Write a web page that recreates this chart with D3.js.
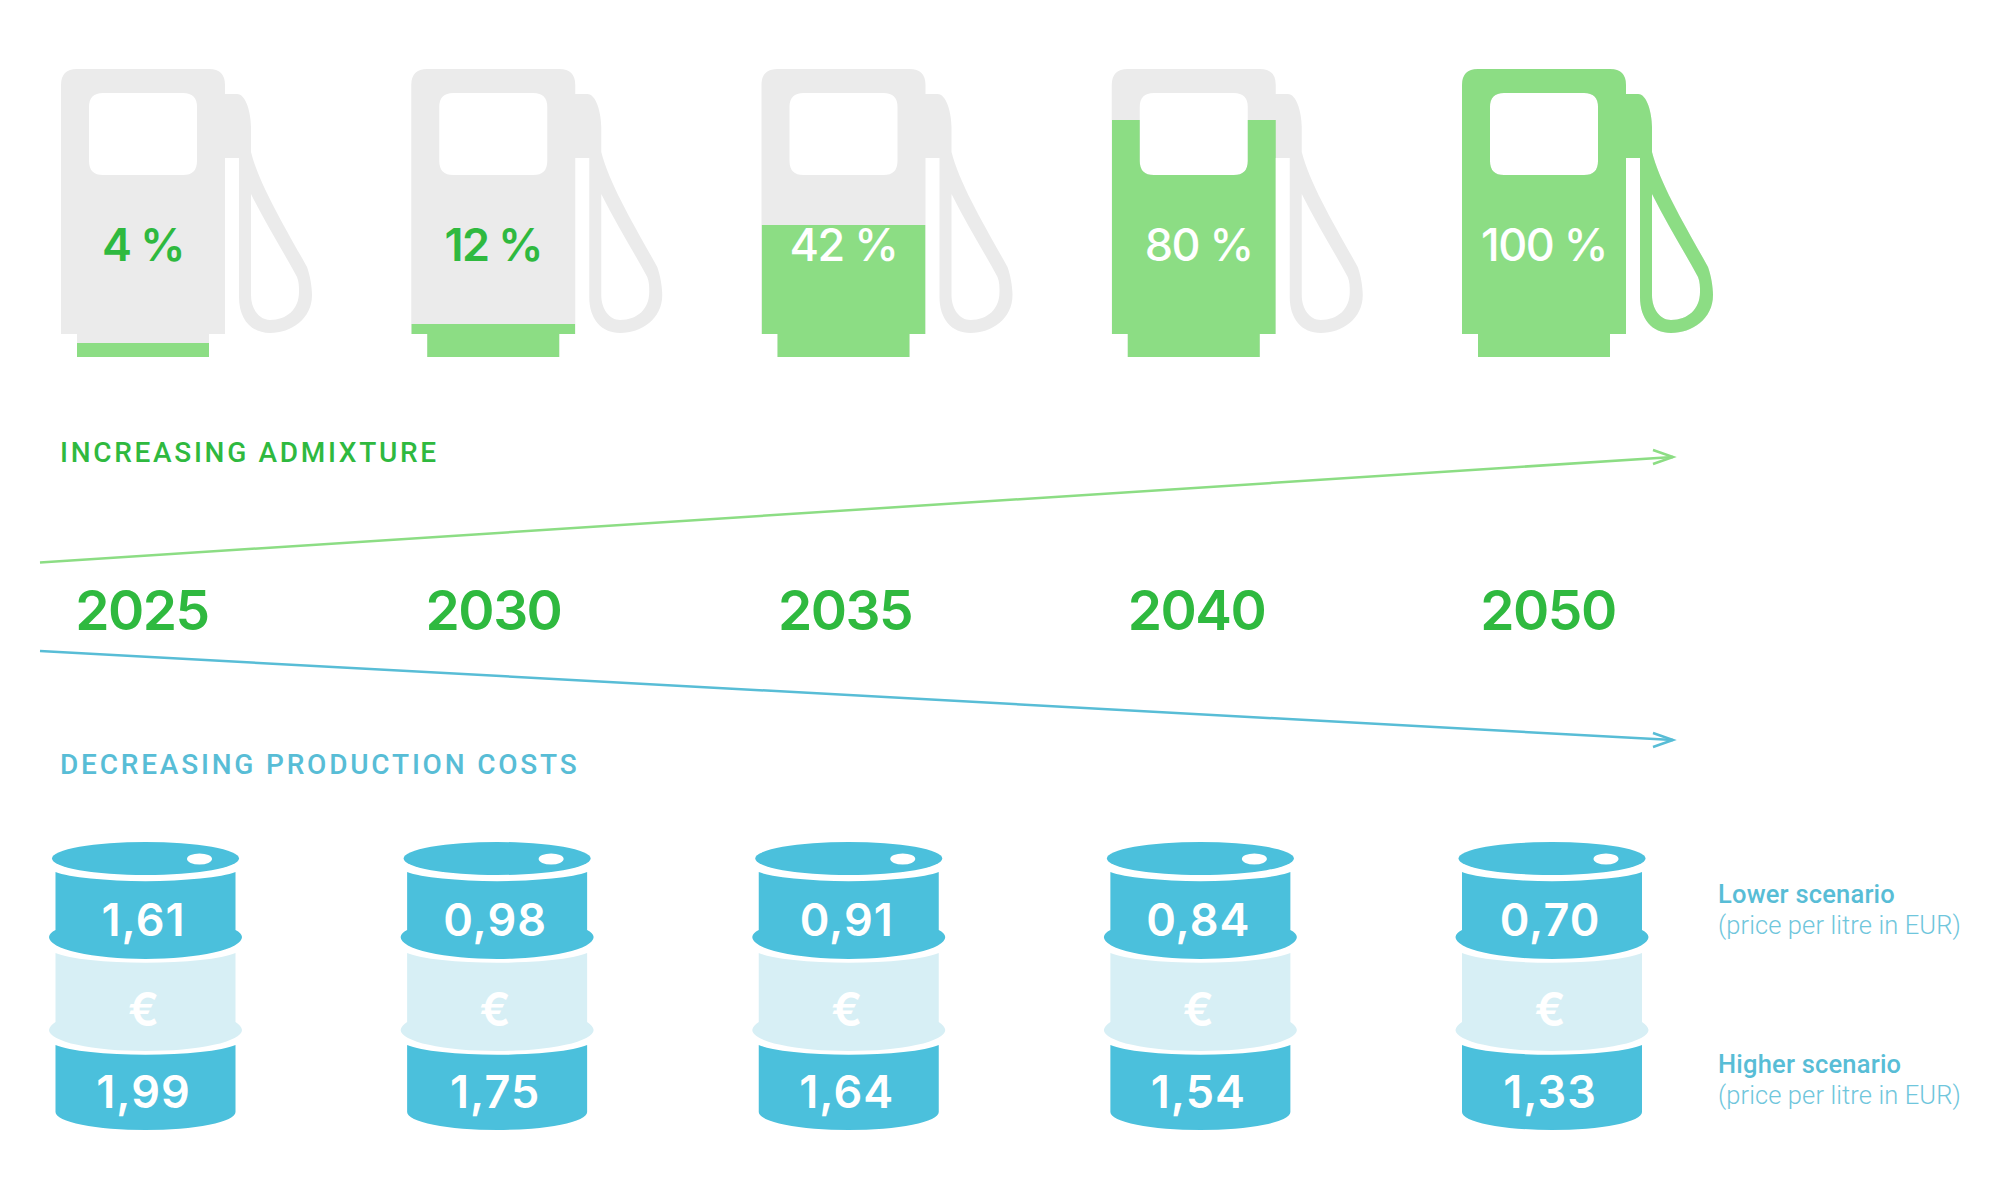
<!DOCTYPE html>
<html>
<head>
<meta charset="utf-8">
<script src="https://d3js.org/d3.v7.min.js"></script>
<style>
  html, body { margin: 0; padding: 0; background: #fff; }
  svg { display: block; }
</style>
</head>
<body>
<svg id="chart" width="2000" height="1200"></svg>
<script>
var years = ["2025", "2030", "2035", "2040", "2050"];
var admixture = [4, 12, 42, 80, 100];
var lowerPrice = ["1,61", "0,98", "0,91", "0,84", "0,70"];
var higherPrice = ["1,99", "1,75", "1,64", "1,54", "1,33"];

var grey = "#ebebeb", lightGreen = "#8cdd84", green = "#2fb93f";
var blue = "#4bc0dc", paleBlue = "#d7eff5", labelBlue = "#58bdd6", softBlue = "#6fc6dc";
var font = "Inter, sans-serif";

var svg = d3.select("#chart");

var pumpX = d3.scalePoint().domain(years).range([61, 1462]);
var barrelX = d3.scalePoint().domain(years).range([145.5, 1552]);
var yearX = d3.scalePoint().domain(years).range([142, 1548]);

// the level in the drawing is not quite proportional so it follows the picture
var levelY = d3.scaleLinear().domain([0, 4, 12, 42, 80, 100]).range([357, 343, 324, 225, 120, 69]);

// pump shape, origin is the top left corner of the body
var pumpPath = "M0,16 Q0,0 16,0 H148 Q164,0 164,16 V25 H176 C185,25 190,44 190,58 V83 " +
  "C198,115 225,160 246,198 C249,206 251,218 251,226 C251,250 230,264 209,264 " +
  "C190,264 178,250 178,228 V89 H164 V265 H148 V288 H16 V265 H0 Z " +
  "M42,24 H122 Q136,24 136,38 V92 Q136,106 122,106 H42 Q28,106 28,92 V38 Q28,24 42,24 Z " +
  "M190,125 C205,155 222,182 236,208 C238,213 238,218 238,223 C238,240 226,251 209,251 " +
  "C198,251 190,240 190,226 Z";

svg.append("clipPath").attr("id", "pumpClip")
  .append("path").attr("d", pumpPath).attr("clip-rule", "evenodd");

var pumps = svg.selectAll(".pump").data(years).enter().append("g")
  .attr("class", "pump")
  .attr("transform", function(d) { return "translate(" + pumpX(d) + ",69)"; });

pumps.append("path")
  .attr("d", pumpPath)
  .attr("fill", grey)
  .attr("fill-rule", "evenodd");

pumps.append("g").attr("clip-path", "url(#pumpClip)")
  .append("rect")
  .attr("x", 0)
  .attr("y", function(d, i) { return levelY(admixture[i]) - 69; })
  .attr("width", function(d, i) { return admixture[i] === 100 ? 270 : 164; })
  .attr("height", function(d, i) { return 357 - levelY(admixture[i]); })
  .attr("fill", lightGreen);

pumps.append("text")
  // the 80 % label sits a little off centre in the original
  .attr("x", function(d, i) { return i === 3 ? 87 : 82; })
  .attr("y", 192)
  .attr("text-anchor", "middle")
  .attr("font-family", font)
  .attr("font-size", 45)
  .attr("font-weight", function(d, i) { return i < 2 ? 600 : 500; })
  .attr("letter-spacing", -1.5)
  .attr("fill", function(d, i) { return i < 2 ? green : "#fff"; })
  .text(function(d, i) { return admixture[i] + " %"; });

// arrows
function arrow(x1, y1, x2, y2, colour) {
  svg.append("line")
    .attr("x1", x1).attr("y1", y1).attr("x2", x2).attr("y2", y2)
    .attr("stroke", colour).attr("stroke-width", 2.5);
  svg.append("path")
    .attr("d", "M" + (x2 - 20) + "," + (y2 - 7) + " L" + x2 + "," + y2 + " L" + (x2 - 20) + "," + (y2 + 7))
    .attr("fill", "none").attr("stroke", colour).attr("stroke-width", 2.5);
}
arrow(40, 562.5, 1673, 457, lightGreen);
arrow(40, 651, 1673, 740, labelBlue);

svg.append("text")
  .attr("x", 60).attr("y", 462)
  .attr("font-family", "Roboto, sans-serif").attr("font-size", 28).attr("font-weight", 500)
  .attr("letter-spacing", 2.7).attr("fill", green)
  .text("INCREASING ADMIXTURE");

svg.append("text")
  .attr("x", 60).attr("y", 774)
  .attr("font-family", "Roboto, sans-serif").attr("font-size", 28).attr("font-weight", 500)
  .attr("letter-spacing", 2.8).attr("fill", labelBlue)
  .text("DECREASING PRODUCTION COSTS");

svg.selectAll(".year").data(years).enter().append("text")
  .attr("class", "year")
  .attr("x", function(d) { return yearX(d); })
  .attr("y", 630)
  .attr("text-anchor", "middle")
  .attr("font-family", font)
  .attr("font-size", 55)
  .attr("font-weight", 600)
  .attr("letter-spacing", -1.5)
  .attr("fill", green)
  .text(function(d) { return d; });

// barrels, origin is the centre of the lid
var barrels = svg.selectAll(".barrel").data(years).enter().append("g")
  .attr("class", "barrel")
  .attr("transform", function(d) { return "translate(" + barrelX(d) + ",0)"; });

barrels.append("ellipse")
  .attr("cx", 0).attr("cy", 858.5).attr("rx", 93.5).attr("ry", 16.5)
  .attr("fill", blue);
barrels.append("ellipse")
  .attr("cx", 54).attr("cy", 859).attr("rx", 12.5).attr("ry", 5.5)
  .attr("fill", "#fff");
barrels.append("path")
  .attr("d", "M-90,872 A96,14 0 0 0 90,872 V930 Q96,933 96.5,937 A96.5,22 0 0 1 -96.5,937 Q-96,933 -90,930 Z")
  .attr("fill", blue);
barrels.append("path")
  .attr("d", "M-90,953 A96,15 0 0 0 90,953 V1022 Q96,1026 96.5,1030 A96.5,21 0 0 1 -96.5,1030 Q-96,1026 -90,1022 Z")
  .attr("fill", paleBlue);
barrels.append("path")
  .attr("d", "M-90,1045 A96,15 0 0 0 90,1045 V1112 A90,18 0 0 1 -90,1112 Z")
  .attr("fill", blue);

function barrelText(values, y) {
  barrels.append("text")
    .attr("x", -2)
    .attr("y", y)
    .attr("text-anchor", "middle")
    .attr("font-family", font)
    .attr("font-size", 45)
    .attr("font-weight", 600)
    .attr("letter-spacing", 1)
    .attr("fill", "#fff")
    .text(function(d, i) { return values[i]; });
}
barrelText(lowerPrice, 936);
barrelText(higherPrice, 1108);

barrels.append("text")
  .attr("x", -2).attr("y", 1026)
  .attr("text-anchor", "middle")
  .attr("font-family", font).attr("font-size", 46).attr("font-weight", 600)
  .attr("fill", "#fff")
  .text("€");

// scenario notes
function note(title, y) {
  svg.append("text")
    .attr("x", 1718).attr("y", y)
    .attr("font-family", "Roboto, sans-serif").attr("font-size", 25.5).attr("font-weight", 500)
    .attr("letter-spacing", 0.2)
    .attr("fill", labelBlue)
    .text(title);
  svg.append("text")
    .attr("x", 1718).attr("y", y + 31)
    .attr("font-family", "Roboto, sans-serif").attr("font-size", 25.5).attr("font-weight", 300)
    .attr("letter-spacing", 0.1)
    .attr("fill", softBlue)
    .text("(price per litre in EUR)");
}
note("Lower scenario", 903);
note("Higher scenario", 1073);
</script>
</body>
</html>
